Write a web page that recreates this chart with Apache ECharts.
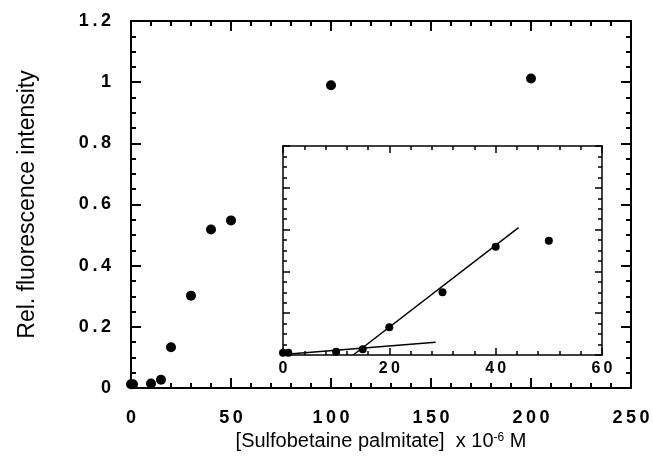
<!DOCTYPE html>
<html><head><meta charset="utf-8">
<script src="https://cdn.jsdelivr.net/npm/echarts@6/dist/echarts.min.js"></script>
<style>html,body{margin:0;padding:0;background:#fff}#c{width:653px;height:461px}</style>
</head><body><div id="c"></div>
<script>
// Main plot data
const mainX = [0, 1, 10, 15, 20, 30, 40, 50, 100, 200];
const mainY = [0.012, 0.012, 0.015, 0.027, 0.133, 0.302, 0.518, 0.548, 0.99, 1.012];
// Inset data
const insetX = [0, 1, 10, 15, 20, 30, 40, 50];
const insetY = [0.011, 0.011, 0.016, 0.027, 0.133, 0.30, 0.518, 0.547];
// Fit lines in inset
const fitSteepX = [13.2, 44.3];
const fitSteepY = [0, 0.609];
const fitShallowX = [0, 28.7];
const fitShallowY = [0.002, 0.061];
// Titles
const xTitle = '[Sulfobetaine palmitate]  x 10{sup|-6} M';
const yTitle = 'Rel. fluorescence intensity';

const FONT = '"Liberation Sans", Arial, Helvetica, sans-serif';
const sp = v => String(+(+v).toFixed(2)).split('').join('\u2009');
const pairs = (xs, ys) => xs.map((x, i) => [x, ys[i]]);

const chart = echarts.init(document.getElementById('c'), null, {renderer: 'canvas'});

function axisBase(min, max, interval, minorSplit, major, minor, width) {
  return {
    min, max, interval,
    axisLine: {show: true, onZero: false, lineStyle: {color: '#000', width}},
    axisTick: {show: true, inside: true, length: major, lineStyle: {color: '#000', width}},
    minorTick: {show: true, splitNumber: minorSplit, length: minor, lineStyle: {color: '#000', width}},
    splitLine: {show: false},
    minorSplitLine: {show: false}
  };
}

const option = {
  backgroundColor: '#fff',
  animation: false,
  grid: [
    {left: 131, right: 22, top: 21, bottom: 73, containLabel: false},
    {left: 283, right: 51, top: 146, bottom: 106, containLabel: false}
  ],
  xAxis: [
    Object.assign(axisBase(0, 250, 50, 5, 10, 5, 2), {
      type: 'value', gridIndex: 0, position: 'bottom',
      axisLabel: {show: true, margin: 21, color: '#000', fontSize: 18, fontWeight: 'bold', fontFamily: FONT, formatter: sp},
      name: xTitle, nameLocation: 'middle', nameGap: 40,
      nameTextStyle: {color: '#000', fontSize: 20, fontFamily: FONT,
        rich: {sup: {fontSize: 12, fontFamily: FONT, color: '#000', verticalAlign: 'top', padding: [0, 0, 6, 0]}}}
    }),
    Object.assign(axisBase(0, 250, 50, 5, 10, 5, 2), {
      type: 'value', gridIndex: 0, position: 'top', axisLabel: {show: false}
    }),
    Object.assign(axisBase(0, 60, 20, 5, 7, 4, 1.5), {
      type: 'value', gridIndex: 1, position: 'bottom',
      axisLabel: {show: true, margin: 6, color: '#000', fontSize: 16, fontWeight: 'bold', fontFamily: FONT, formatter: sp}
    }),
    Object.assign(axisBase(0, 60, 20, 5, 7, 4, 1.5), {
      type: 'value', gridIndex: 1, position: 'top', axisLabel: {show: false}
    })
  ],
  yAxis: [
    Object.assign(axisBase(0, 1.2, 0.2, 4, 10, 5, 2), {
      type: 'value', gridIndex: 0, position: 'left',
      axisLabel: {show: true, margin: 20, color: '#000', fontSize: 18, fontWeight: 'bold', fontFamily: FONT, formatter: sp},
      name: yTitle, nameLocation: 'middle', nameGap: 92,
      nameTextStyle: {color: '#000', fontSize: 23, fontFamily: FONT}
    }),
    Object.assign(axisBase(0, 1.2, 0.2, 4, 10, 5, 2), {
      type: 'value', gridIndex: 0, position: 'right', axisLabel: {show: false}
    }),
    Object.assign(axisBase(0, 1, 0.2, 4, 7, 4, 1.5), {
      type: 'value', gridIndex: 1, position: 'left', axisLabel: {show: false}
    }),
    Object.assign(axisBase(0, 1, 0.2, 4, 7, 4, 1.5), {
      type: 'value', gridIndex: 1, position: 'right', axisLabel: {show: false}
    })
  ],
  series: [
    {type: 'scatter', xAxisIndex: 0, yAxisIndex: 0, data: pairs(mainX, mainY),
      symbol: 'circle', symbolSize: 10, itemStyle: {color: '#000', opacity: 1}, z: 5},
    {type: 'line', xAxisIndex: 2, yAxisIndex: 2, data: pairs(fitSteepX, fitSteepY),
      showSymbol: false, symbol: 'none', lineStyle: {color: '#000', width: 1.5}, z: 3},
    {type: 'line', xAxisIndex: 2, yAxisIndex: 2, data: pairs(fitShallowX, fitShallowY),
      showSymbol: false, symbol: 'none', lineStyle: {color: '#000', width: 1.5}, z: 3},
    {type: 'scatter', xAxisIndex: 2, yAxisIndex: 2, data: pairs(insetX, insetY),
      symbol: 'circle', symbolSize: 8, itemStyle: {color: '#000', opacity: 1}, z: 5}
  ]
};
chart.setOption(option);
</script></body></html>
